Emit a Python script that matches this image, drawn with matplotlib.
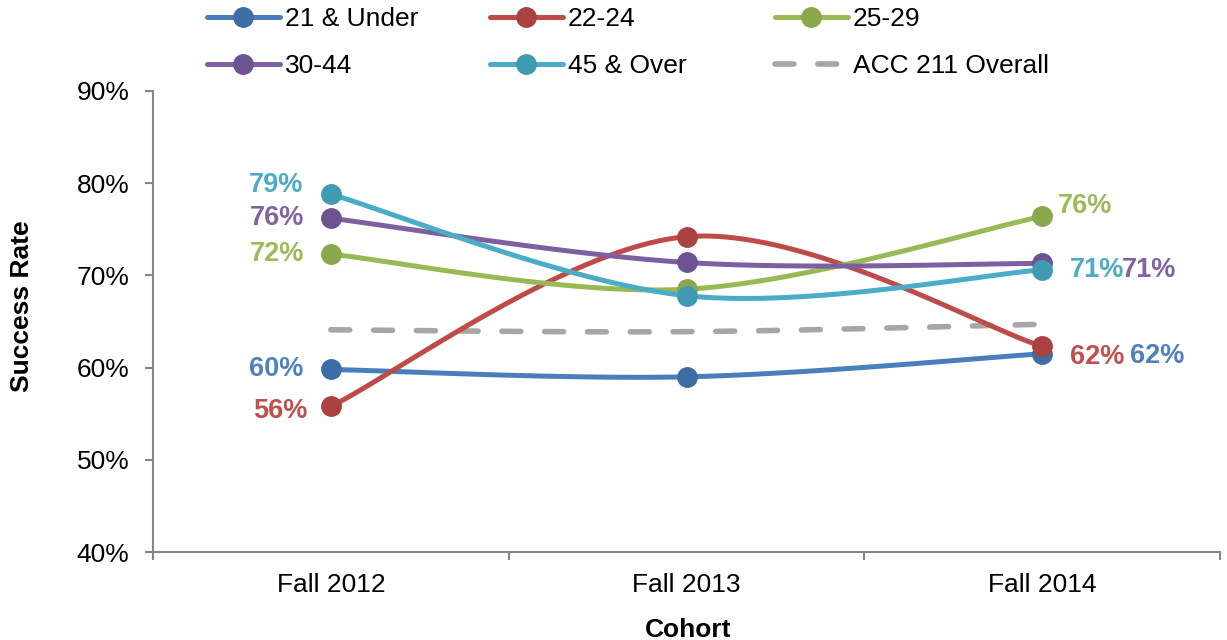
import matplotlib.pyplot as plt
import numpy as np

plt.rcParams['font.family'] = ['Liberation Sans', 'DejaVu Sans']

cohorts = ['Fall 2012', 'Fall 2013', 'Fall 2014']
age_groups = ['21 & Under', '22-24', '25-29', '30-44', '45 & Over']
under21 = [59.8, 59.0, 61.5]
age22_24 = [55.8, 74.2, 62.3]
age25_29 = [72.3, 68.5, 76.4]
age30_44 = [76.2, 71.4, 71.3]
over45 = [78.8, 67.8, 70.6]
overall = [64.1, 63.9, 64.7]
series = [under21, age22_24, age25_29, age30_44, over45]

line_colors = ['#4A7EBB', '#BE4B48', '#98B954', '#7D60A0', '#4BACC6']
marker_colors = ['#3D6DA6', '#A94240', '#89A74B', '#6C5392', '#3E9BB3']
label_colors = ['#4F81BD', '#C0504D', '#9BBB59', '#8064A2', '#4BACC6']

# label offsets (pixels) for first / last point
first_off = [(-27, 0), (-23, -5), (-27, 0), (-27, 0), (-28, 9)]
last_off = [(88, -2), (28, -11), (16, 10), (80, -7), (28, 0)]


def smooth(x, y, n=40):
    # Excel-like smoothed line: cubic bezier with 1/6 tension control points
    pts = np.column_stack([x, y]).astype(float)
    ext = np.vstack([pts[0], pts, pts[-1]])
    out = []
    t = np.linspace(0, 1, n)[:, None]
    for i in range(len(pts) - 1):
        p0, p3 = ext[i + 1], ext[i + 2]
        p1 = p0 + (ext[i + 2] - ext[i]) / 6
        p2 = p3 - (ext[i + 3] - ext[i + 1]) / 6
        seg = (1 - t)**3 * p0 + 3 * (1 - t)**2 * t * p1 + 3 * (1 - t) * t**2 * p2 + t**3 * p3
        out.append(seg)
    out = np.vstack(out)
    return out[:, 0], out[:, 1]


W, H = 1227, 640
fig = plt.figure(figsize=(W / 100, H / 100), dpi=100)
ax = fig.add_axes([153 / W, 1 - 552 / H, (1220 - 153) / W, (552 - 91) / H])

x = np.arange(len(cohorts))
handles = []
sx, sy = smooth(x, overall)
overall_handle, = ax.plot(sx, sy, color='#A6A6A6', lw=4, dashes=(3.4, 4.3),
                          dash_capstyle='round', label='ACC 211 Overall', zorder=2)

for i, vals in enumerate(series):
    sx, sy = smooth(x, vals)
    ax.plot(sx, sy, color=line_colors[i], lw=3.6, solid_capstyle='round', zorder=3)
    ax.plot(x, vals, 'o', ms=14, color=marker_colors[i], zorder=4)
    hh, = ax.plot([], [], color=line_colors[i], lw=3.6, marker='o', ms=14,
                  markerfacecolor=marker_colors[i], markeredgecolor=marker_colors[i],
                  solid_capstyle='round', label=age_groups[i])
    handles.append(hh)
    ax.annotate('%d%%' % round(vals[0]), (x[0], vals[0]), xytext=first_off[i],
                textcoords='offset pixels', ha='right', va='center',
                fontsize=19.5, fontweight='bold', color=label_colors[i])
    ax.annotate('%d%%' % round(vals[-1]), (x[-1], vals[-1]), xytext=last_off[i],
                textcoords='offset pixels', ha='left', va='center',
                fontsize=19.5, fontweight='bold', color=label_colors[i])

ax.set_xlim(-0.5, 2.5)
ax.set_ylim(40, 90)
ax.set_yticks(range(40, 91, 10))
ax.set_yticklabels(['%d%%' % v for v in range(40, 91, 10)], fontsize=19)
ax.set_xticks(x)
ax.set_xticklabels(cohorts, fontsize=19)
ax.set_xticks([-0.5, 0.5, 1.5, 2.5], minor=True)
ax.tick_params(axis='x', which='major', length=0, pad=15)
ax.tick_params(axis='x', which='minor', length=6, color='#868686', width=1.5)
ax.tick_params(axis='y', length=6, color='#868686', width=1.5, pad=11)
for s in ['top', 'right']:
    ax.spines[s].set_visible(False)
for s in ['left', 'bottom']:
    ax.spines[s].set_color('#868686')
    ax.spines[s].set_linewidth(1.5)

fig.text(688 / W, 1 - 630 / H, 'Cohort', fontsize=19, fontweight='bold',
         ha='center', va='center')
fig.text(22 / W, 1 - 306 / H, 'Success Rate', fontsize=19, fontweight='bold',
         rotation=90, ha='center', va='center')

# legend: one per column so columns land where the reference has them
cols = [(handles[0], handles[3]), (handles[1], handles[4]), (handles[2], overall_handle)]
col_x = [207, 490, 775]
for hs, cx in zip(cols, col_x):
    leg = fig.legend(handles=list(hs), labels=[h.get_label() for h in hs],
                     loc='upper left', bbox_to_anchor=(cx / W, 1 - 7 / H),
                     frameon=False, fontsize=19, handlelength=2.75,
                     handletextpad=0.2, labelspacing=0.88, borderpad=0,
                     borderaxespad=0)

fig.savefig('out.png', dpi=100)
